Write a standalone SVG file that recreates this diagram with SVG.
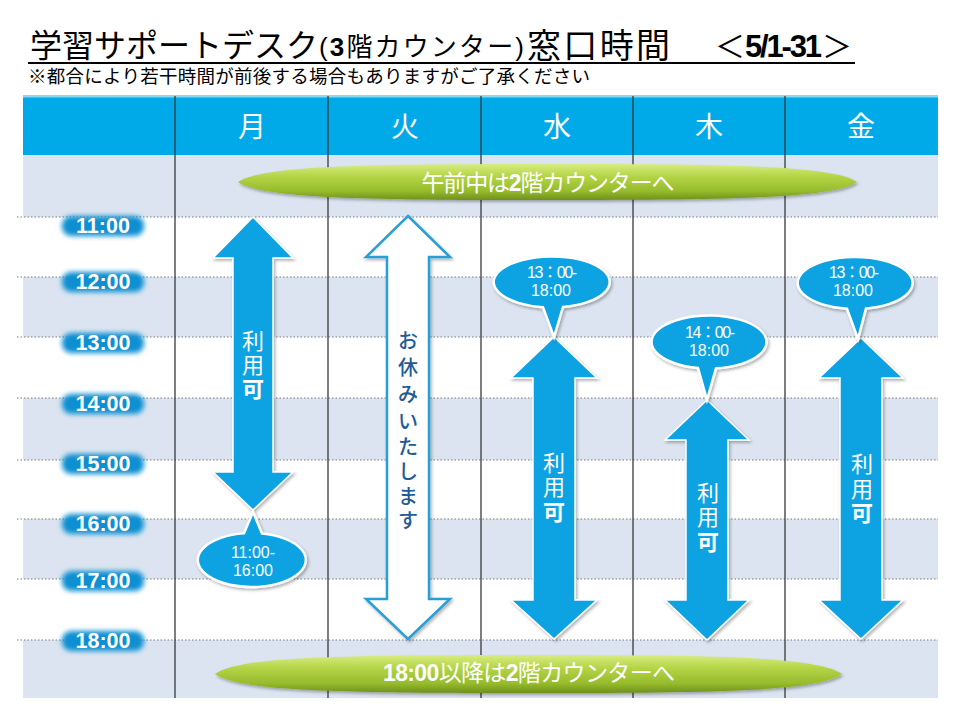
<svg xmlns="http://www.w3.org/2000/svg" width="960" height="720" viewBox="0 0 960 720">
<defs>
<style>
.jp{font-family:"Liberation Sans","Noto Sans CJK JP",sans-serif;}
.hd{font-size:28px;fill:#fff;text-anchor:middle;dominant-baseline:central;}
.tm{font-size:21.5px;font-weight:bold;fill:#fff;text-anchor:middle;dominant-baseline:central;}
.glow{fill:#0a8fd2;filter:url(#blur);}
.dot{stroke:#7c7c7c;stroke-width:1.2;stroke-dasharray:1.5 2;}
.col{stroke:#3a3a3a;stroke-width:1.3;}
.arw{fill:#0aa3e3;stroke:#ffffff;stroke-width:1.5;filter:url(#sh);}
.call{fill:#0aa3e3;stroke:#ffffff;stroke-width:2.5;filter:url(#sh);}
.ct{font-size:16px;fill:#fff;text-anchor:middle;dominant-baseline:central;}
.vt{font-size:22px;fill:#fff;text-anchor:middle;dominant-baseline:central;}
.ban{fill:url(#gg);filter:url(#sh);}
.bt{font-size:23px;fill:#fff;text-anchor:middle;dominant-baseline:central;}
.light{fill:#dbe4f0;}
</style>
<filter id="sh" x="-20%" y="-20%" width="140%" height="140%">
<feDropShadow dx="1.5" dy="2" stdDeviation="1.5" flood-color="#000" flood-opacity="0.3"/>
</filter>
<filter id="blur" x="-30%" y="-100%" width="160%" height="300%">
<feGaussianBlur stdDeviation="2.5"/>
</filter>
<linearGradient id="gg" x1="0" y1="0" x2="0" y2="1">
<stop offset="0" stop-color="#d8ec80"/>
<stop offset="0.35" stop-color="#b4d446"/>
<stop offset="0.75" stop-color="#96bb2e"/>
<stop offset="1" stop-color="#6f901c"/>
</linearGradient>
</defs>

<rect x="0" y="0" width="960" height="720" fill="#ffffff"/>

<g id="title" class="jp">
<text x="30" y="46" font-size="32" dominant-baseline="central" textLength="288" fill="#000">学習サポートデスク</text>
<text x="319" y="47" font-size="26" dominant-baseline="central" textLength="205" fill="#000">(<tspan font-weight="bold">3</tspan>階カウンター)</text>
<text x="527" y="46" font-size="34" dominant-baseline="central" textLength="143" fill="#000">窓口時間</text>
<text x="715" y="46" font-size="30" dominant-baseline="central" fill="#000">＜</text>
<text x="745" y="46" font-size="31" font-weight="bold" dominant-baseline="central" textLength="77" fill="#000">5/1-31</text>
<text x="822" y="46" font-size="30" dominant-baseline="central" fill="#000">＞</text>
<line x1="28" y1="63" x2="855" y2="63" stroke="#000" stroke-width="2"/>
<text x="28" y="76" font-size="18.5" dominant-baseline="central" textLength="562" fill="#000">※都合により若干時間が前後する場合もありますがご了承ください</text>
</g>

<g id="table">
<rect x="23" y="96" width="915" height="59" fill="#00a9e8"/>
<rect x="23" y="95" width="915" height="2.5" fill="#8fd6f3"/>
<rect x="23" y="155" width="915" height="543" fill="#ffffff"/>
<rect class="light" x="23" y="155" width="915" height="62"/>
<rect class="light" x="23" y="277" width="915" height="60"/>
<rect class="light" x="23" y="398" width="915" height="62"/>
<rect class="light" x="23" y="519" width="915" height="60"/>
<rect class="light" x="23" y="640" width="915" height="58"/>
<g>
<line class="dot" x1="17" y1="217" x2="938" y2="217"/>
<line class="dot" x1="17" y1="277" x2="938" y2="277"/>
<line class="dot" x1="17" y1="337" x2="938" y2="337"/>
<line class="dot" x1="17" y1="398" x2="938" y2="398"/>
<line class="dot" x1="17" y1="460" x2="938" y2="460"/>
<line class="dot" x1="17" y1="519" x2="938" y2="519"/>
<line class="dot" x1="17" y1="579" x2="938" y2="579"/>
<line class="dot" x1="17" y1="640" x2="938" y2="640"/>
</g>
<g>
<line class="col" x1="175" y1="96" x2="175" y2="698"/>
<line class="col" x1="328" y1="96" x2="328" y2="698"/>
<line class="col" x1="481" y1="96" x2="481" y2="698"/>
<line class="col" x1="633" y1="96" x2="633" y2="698"/>
<line class="col" x1="785" y1="96" x2="785" y2="698"/>
</g>
<g class="jp">
<text class="hd" x="252" y="127">月</text>
<text class="hd" x="405" y="127">火</text>
<text class="hd" x="557" y="127">水</text>
<text class="hd" x="709" y="127">木</text>
<text class="hd" x="861" y="127">金</text>
</g>
</g>

<g id="times" class="jp">
<g id="t11"><rect class="glow" x="62" y="216" width="82" height="20" rx="9"/><text class="tm" x="103" y="226">11:00</text></g>
<g id="t12"><rect class="glow" x="62" y="272" width="82" height="20" rx="9"/><text class="tm" x="103" y="282">12:00</text></g>
<g id="t13"><rect class="glow" x="62" y="333" width="82" height="20" rx="9"/><text class="tm" x="103" y="343">13:00</text></g>
<g id="t14"><rect class="glow" x="62" y="394" width="82" height="20" rx="9"/><text class="tm" x="103" y="404">14:00</text></g>
<g id="t15"><rect class="glow" x="62" y="454" width="82" height="20" rx="9"/><text class="tm" x="103" y="464">15:00</text></g>
<g id="t16"><rect class="glow" x="62" y="514" width="82" height="20" rx="9"/><text class="tm" x="103" y="524">16:00</text></g>
<g id="t17"><rect class="glow" x="62" y="571" width="82" height="20" rx="9"/><text class="tm" x="103" y="581">17:00</text></g>
<g id="t18"><rect class="glow" x="62" y="631" width="82" height="20" rx="9"/><text class="tm" x="103" y="641">18:00</text></g>
</g>

<g id="banner-top" class="jp">
<path class="ban" d="M238,182 C262,166 360,164 548,164 C736,164 834,166 857,182 C834,198 736,200 548,200 C360,200 262,198 238,182 Z"/>
<text class="bt" x="548" y="183" textLength="253">午前中は<tspan font-weight="bold">2</tspan>階カウンターへ</text>
</g>

<g id="banner-bottom" class="jp">
<path class="ban" d="M215,674 C239,657 335,655 528,655 C722,655 818,657 842,674 C818,691 722,693 528,693 C335,693 239,691 215,674 Z"/>
<text class="bt" x="529" y="673" textLength="292"><tspan font-weight="bold">18:00</tspan>以降は<tspan font-weight="bold">2</tspan>階カウンターへ</text>
</g>

<g id="connectors">
<polygon id="arrow-mon" class="arw" points="253,217 293,258 273,258 273,472 293,472 253,510 213,472 233,472 233,258 213,258"/>
<polygon id="arrow-tue" points="408,216 450,257 429,257 429,599 450,599 408,639 366,599 387,599 387,257 366,257" fill="#ffffff" stroke="#2a9fd6" stroke-width="2.5" filter="url(#sh)"/>
<polygon id="arrow-wed" class="arw" points="554,337 597,378 575,378 575,600 597,600 554,639 511,600 533,600 533,378 511,378"/>
<polygon id="arrow-thu" class="arw" points="707,400 749,440 728,440 728,600 749,600 707,640 665,600 686,600 686,440 665,440"/>
<polygon id="arrow-fri" class="arw" points="861,338 903,378 882,378 882,600 903,600 861,639 819,600 840,600 840,378 819,378"/>
</g>

<g id="label-mon" class="jp"><text class="vt"><tspan x="253" y="341">利</tspan><tspan x="253" y="365">用</tspan><tspan x="253" y="389" font-weight="bold">可</tspan></text></g>
<g id="label-tue" class="jp"><text font-size="20" font-weight="500" fill="#1f5b96" text-anchor="middle" dominant-baseline="central"><tspan x="408" y="341">お</tspan><tspan x="408" y="368">休</tspan><tspan x="408" y="395">み</tspan><tspan x="408" y="422">い</tspan><tspan x="408" y="447">た</tspan><tspan x="408" y="472">し</tspan><tspan x="408" y="497">ま</tspan><tspan x="408" y="521">す</tspan></text></g>
<g id="label-wed" class="jp"><text class="vt"><tspan x="554" y="463">利</tspan><tspan x="554" y="487">用</tspan><tspan x="554" y="512" font-weight="bold">可</tspan></text></g>
<g id="label-thu" class="jp"><text class="vt"><tspan x="708" y="493">利</tspan><tspan x="708" y="517">用</tspan><tspan x="708" y="542" font-weight="bold">可</tspan></text></g>
<g id="label-fri" class="jp"><text class="vt"><tspan x="862" y="464">利</tspan><tspan x="862" y="489">用</tspan><tspan x="862" y="513" font-weight="bold">可</tspan></text></g>

<g id="callout-mon" class="jp">
<path class="call" d="M262,533.5 A54,27 0 1 1 244,533.3 L253,512 Z"/>
<text class="ct" x="253" y="552">11:00-</text>
<text class="ct" x="253" y="570">16:00</text>
</g>
<g id="callout-wed" class="jp">
<path class="call" d="M543,307.2 A58,25.5 0 1 1 563,307 L554,337 Z"/>
<text class="ct" x="552" y="272" textLength="50">13：00-</text>
<text class="ct" x="551" y="290">18:00</text>
</g>
<g id="callout-thu" class="jp">
<path class="call" d="M698,368 A57.5,26.5 0 1 1 716,368.3 L707,400 Z"/>
<text class="ct" x="710" y="332" textLength="50">14：00-</text>
<text class="ct" x="709" y="350">18:00</text>
</g>
<g id="callout-fri" class="jp">
<path class="call" d="M847,308.7 A57.5,26 0 1 1 866,308.5 L858,339 Z"/>
<text class="ct" x="854" y="272" textLength="50">13：00-</text>
<text class="ct" x="853" y="290">18:00</text>
</g>
</svg>
